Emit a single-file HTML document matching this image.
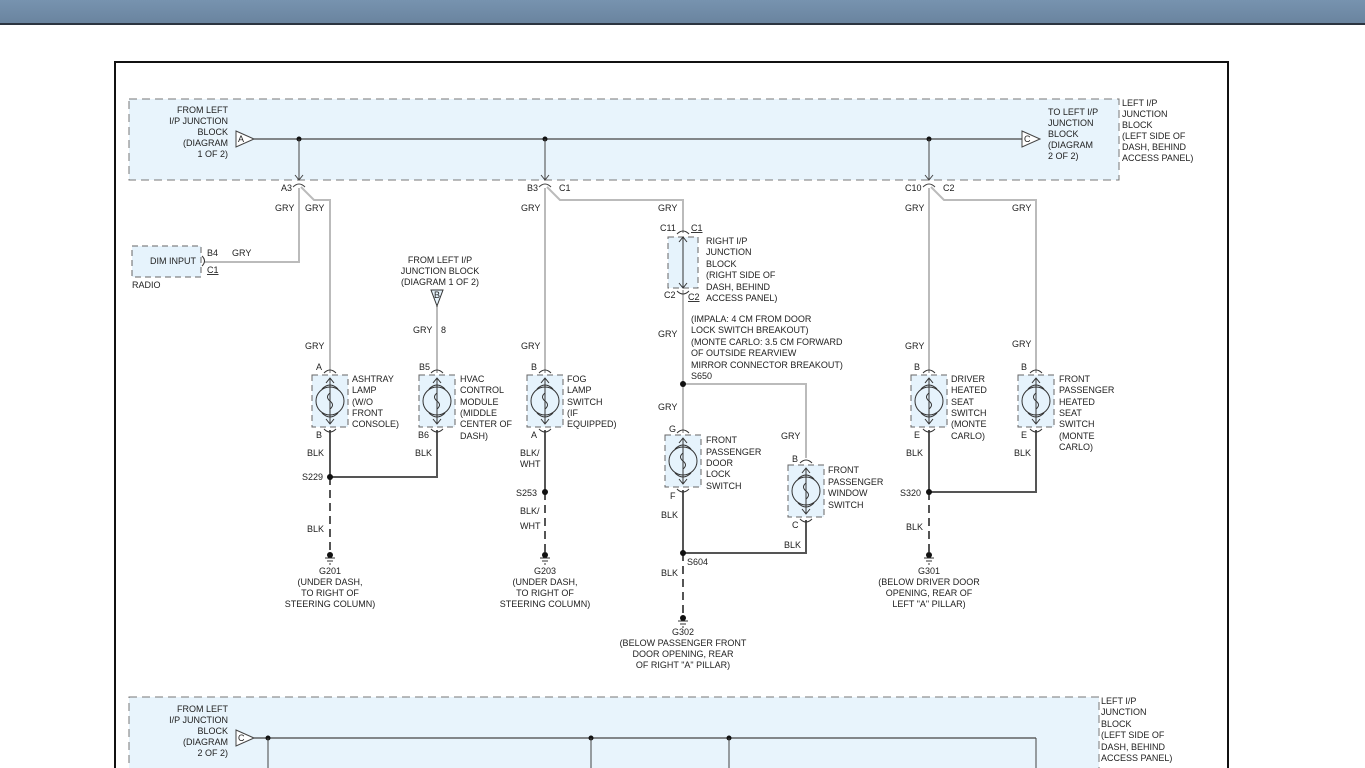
<!DOCTYPE html>
<html><head><meta charset="utf-8"><style>
html,body{margin:0;padding:0;width:1365px;height:768px;overflow:hidden;background:#fff}
.hdr{position:absolute;left:0;top:0;width:1365px;height:23px;background:linear-gradient(#7793af,#6a849f);border-bottom:2px solid #2b3440}
svg{position:absolute;left:0;top:0}
text{font-family:"Liberation Sans",Arial,sans-serif;font-size:9px;fill:#222}
</style></head><body>
<div class="hdr"></div>
<svg width="1365" height="768" viewBox="0 0 1365 768">
<defs>
<g id="cp">
<rect x="0" y="0" width="36" height="52" fill="#e6f3fc" stroke="#666" stroke-dasharray="6,4" stroke-width="1"/>
<circle cx="18" cy="26" r="14" fill="none" stroke="#333" stroke-width="1"/>
<path d="M18 3 V49 M14 8 L18 3 L22 8 M14 44 L18 49 L22 44" fill="none" stroke="#333" stroke-width="1"/>
<path d="M10 14 Q18 6 26 14 M10 38 Q18 46 26 38" fill="none" stroke="#333" stroke-width="1"/>
<path d="M18 18 q-5 4 0 8 q5 4 0 8" fill="none" stroke="#333"/>
<path d="M12 -2 q6 -6 12 0 M12 54 q6 6 12 0" fill="none" stroke="#333"/>
</g>
<g id="gnd"><circle cx="0" cy="0" r="3" fill="#111"/><path d="M-5 3 H5 M-3 6 H3 M-1 9 H1" stroke="#333"/></g>
</defs>
<rect x="115" y="62" width="1113" height="720" fill="none" stroke="#111" stroke-width="2"/>
<!-- top block -->
<rect x="129" y="99" width="990" height="81" fill="#e8f4fc" stroke="#777" stroke-dasharray="8,5"/>
<line x1="254" y1="139" x2="1022" y2="139" stroke="#444" stroke-width="1.2"/>
<path d="M236 131 L254 139 L236 147 Z" fill="#fff" stroke="#444"/><text x="238" y="142">A</text>
<path d="M1022 131 L1040 139 L1022 147 Z" fill="#fff" stroke="#444"/><text x="1024" y="142">C</text>
<g fill="#111"><circle cx="299" cy="139" r="2.5"/><circle cx="545" cy="139" r="2.5"/><circle cx="929" cy="139" r="2.5"/></g>
<g stroke="#444" fill="none"><path d="M299 139V180 M295 175 L299 180 L303 175"/><path d="M545 139V180 M541 175 L545 180 L549 175"/><path d="M929 139V180 M925 175 L929 180 L933 175"/>
<path d="M293 187 q6 -6 12 0 M539 187 q6 -6 12 0 M923 187 q6 -6 12 0"/></g>
<text text-anchor="end"><tspan x="228" y="113">FROM LEFT</tspan><tspan x="228" y="124">I/P JUNCTION</tspan><tspan x="228" y="135">BLOCK</tspan><tspan x="228" y="146">(DIAGRAM</tspan><tspan x="228" y="157">1 OF 2)</tspan></text>
<text><tspan x="1048" y="115">TO LEFT I/P</tspan><tspan x="1048" y="126">JUNCTION</tspan><tspan x="1048" y="137">BLOCK</tspan><tspan x="1048" y="148">(DIAGRAM</tspan><tspan x="1048" y="159">2 OF 2)</tspan></text>
<text><tspan x="1122" y="106">LEFT I/P</tspan><tspan x="1122" y="117">JUNCTION</tspan><tspan x="1122" y="128">BLOCK</tspan><tspan x="1122" y="139">(LEFT SIDE OF</tspan><tspan x="1122" y="150">DASH, BEHIND</tspan><tspan x="1122" y="161">ACCESS PANEL)</tspan></text>
<text x="281" y="191">A3</text><text x="527" y="191">B3</text><text x="559" y="191">C1</text><text x="905" y="191">C10</text><text x="943" y="191">C2</text>
<!-- GRY wires -->
<g stroke="#bbb" stroke-width="2" fill="none">
<path d="M299 188 V262 H205"/>
<path d="M301 187 L314 200 H330 V373"/>
<path d="M437 306 V373"/>
<path d="M545 188 V373"/>
<path d="M547 187 L560 200 H683 V233"/>
<path d="M683 290 V433"/>
<path d="M683 384 H806 V458"/>
<path d="M929 188 V373"/>
<path d="M931 187 L944 200 H1036 V373"/>
</g>
<!-- BLK wires -->
<g stroke="#555" stroke-width="2" fill="none">
<path d="M330 430 V477 H437 V430"/>
<path d="M545 430 V492"/>
<path d="M683 490 V553 H806 V520"/>
<path d="M929 430 V492 H1036 V430"/>
</g>
<g stroke="#555" stroke-width="2" fill="none" stroke-dasharray="8,5">
<path d="M330 477 V553"/><path d="M545 492 V553"/><path d="M929 492 V553"/><path d="M683 553 V616"/>
</g>
<g fill="#111"><circle cx="330" cy="477" r="3"/><circle cx="545" cy="492" r="3"/><circle cx="929" cy="492" r="3"/><circle cx="683" cy="384" r="3"/><circle cx="683" cy="553" r="3"/></g>
<use href="#gnd" x="330" y="555"/><use href="#gnd" x="545" y="555"/><use href="#gnd" x="929" y="555"/><use href="#gnd" x="683" y="618"/>
<!-- radio -->
<rect x="132" y="246" width="69" height="31" fill="#e6f3fc" stroke="#666" stroke-dasharray="6,4"/>
<text x="150" y="264">DIM INPUT</text><path d="M202 256 q5 5 0 10" stroke="#333" fill="none"/>
<text x="207" y="256">B4</text><text x="232" y="256">GRY</text><text x="207" y="273" text-decoration="underline">C1</text><text x="132" y="288">RADIO</text>
<!-- components -->
<use href="#cp" x="312" y="375"/><use href="#cp" x="419" y="375"/><use href="#cp" x="527" y="375"/>
<use href="#cp" x="665" y="435"/><use href="#cp" x="788" y="465"/><use href="#cp" x="911" y="375"/><use href="#cp" x="1018" y="375"/>
<rect x="668" y="237" width="30" height="51" fill="#e6f3fc" stroke="#666" stroke-dasharray="6,4"/>
<path d="M683 237V288 M679 242 L683 237 L687 242 M679 283 L683 288 L687 283 M677 234 q6 -6 12 0 M677 291 q6 6 12 0" stroke="#333" fill="none"/>
<path d="M431 290 H443 L437 306 Z" fill="#e6f3fc" stroke="#333"/><text x="434" y="298" font-size="7">B</text>
<!-- labels -->
<text x="275" y="211">GRY</text><text x="305" y="211">GRY</text><text x="521" y="211">GRY</text><text x="658" y="211">GRY</text><text x="905" y="211">GRY</text><text x="1012" y="211">GRY</text>
<text text-anchor="middle"><tspan x="440" y="263">FROM LEFT I/P</tspan><tspan x="440" y="274">JUNCTION BLOCK</tspan><tspan x="440" y="285">(DIAGRAM 1 OF 2)</tspan></text>
<text x="413" y="333">GRY</text><text x="441" y="333">8</text>
<text x="305" y="349">GRY</text><text x="521" y="349">GRY</text><text x="905" y="349">GRY</text><text x="1012" y="347">GRY</text>
<text x="316" y="370">A</text><text x="419" y="370">B5</text><text x="531" y="370">B</text><text x="914" y="370">B</text><text x="1021" y="370">B</text>
<text><tspan x="352" y="382">ASHTRAY</tspan><tspan x="352" y="393">LAMP</tspan><tspan x="352" y="405">(W/O</tspan><tspan x="352" y="416">FRONT</tspan><tspan x="352" y="427">CONSOLE)</tspan></text>
<text><tspan x="460" y="382">HVAC</tspan><tspan x="460" y="393">CONTROL</tspan><tspan x="460" y="405">MODULE</tspan><tspan x="460" y="416">(MIDDLE</tspan><tspan x="460" y="427">CENTER OF</tspan><tspan x="460" y="439">DASH)</tspan></text>
<text><tspan x="567" y="382">FOG</tspan><tspan x="567" y="393">LAMP</tspan><tspan x="567" y="405">SWITCH</tspan><tspan x="567" y="416">(IF</tspan><tspan x="567" y="427">EQUIPPED)</tspan></text>
<text><tspan x="951" y="382">DRIVER</tspan><tspan x="951" y="393">HEATED</tspan><tspan x="951" y="405">SEAT</tspan><tspan x="951" y="416">SWITCH</tspan><tspan x="951" y="427">(MONTE</tspan><tspan x="951" y="439">CARLO)</tspan></text>
<text><tspan x="1059" y="382">FRONT</tspan><tspan x="1059" y="393">PASSENGER</tspan><tspan x="1059" y="405">HEATED</tspan><tspan x="1059" y="416">SEAT</tspan><tspan x="1059" y="427">SWITCH</tspan><tspan x="1059" y="439">(MONTE</tspan><tspan x="1059" y="450">CARLO)</tspan></text>
<text x="316" y="438">B</text><text x="418" y="438">B6</text><text x="531" y="438">A</text><text x="914" y="438">E</text><text x="1021" y="438">E</text>
<text x="307" y="456">BLK</text><text x="415" y="456">BLK</text><text x="520" y="456">BLK/</text><text x="520" y="467">WHT</text><text x="906" y="456">BLK</text><text x="1014" y="456">BLK</text>
<text x="302" y="480">S229</text><text x="516" y="496">S253</text><text x="900" y="496">S320</text>
<text x="307" y="532">BLK</text><text x="520" y="514">BLK/</text><text x="520" y="529">WHT</text><text x="906" y="530">BLK</text>
<text text-anchor="middle"><tspan x="330" y="574">G201</tspan><tspan x="330" y="585">(UNDER DASH,</tspan><tspan x="330" y="596">TO RIGHT OF</tspan><tspan x="330" y="607">STEERING COLUMN)</tspan></text>
<text text-anchor="middle"><tspan x="545" y="574">G203</tspan><tspan x="545" y="585">(UNDER DASH,</tspan><tspan x="545" y="596">TO RIGHT OF</tspan><tspan x="545" y="607">STEERING COLUMN)</tspan></text>
<text text-anchor="middle"><tspan x="929" y="574">G301</tspan><tspan x="929" y="585">(BELOW DRIVER DOOR</tspan><tspan x="929" y="596">OPENING, REAR OF</tspan><tspan x="929" y="607">LEFT "A" PILLAR)</tspan></text>
<text text-anchor="middle"><tspan x="683" y="635">G302</tspan><tspan x="683" y="646">(BELOW PASSENGER FRONT</tspan><tspan x="683" y="657">DOOR OPENING, REAR</tspan><tspan x="683" y="668">OF RIGHT "A" PILLAR)</tspan></text>
<text x="660" y="231">C11</text><text x="691" y="231" text-decoration="underline">C1</text>
<text><tspan x="706" y="244">RIGHT I/P</tspan><tspan x="706" y="255">JUNCTION</tspan><tspan x="706" y="267">BLOCK</tspan><tspan x="706" y="278">(RIGHT SIDE OF</tspan><tspan x="706" y="290">DASH, BEHIND</tspan><tspan x="706" y="301">ACCESS PANEL)</tspan></text>
<text x="664" y="298">C2</text><text x="688" y="300" text-decoration="underline">C2</text>
<text x="658" y="337">GRY</text>
<text><tspan x="691" y="322">(IMPALA: 4 CM FROM DOOR</tspan><tspan x="691" y="333">LOCK SWITCH BREAKOUT)</tspan><tspan x="691" y="345">(MONTE CARLO: 3.5 CM FORWARD</tspan><tspan x="691" y="356">OF OUTSIDE REARVIEW</tspan><tspan x="691" y="368">MIRROR CONNECTOR BREAKOUT)</tspan><tspan x="691" y="379">S650</tspan></text>
<text x="658" y="410">GRY</text><text x="669" y="432">G</text>
<text><tspan x="706" y="443">FRONT</tspan><tspan x="706" y="455">PASSENGER</tspan><tspan x="706" y="466">DOOR</tspan><tspan x="706" y="477">LOCK</tspan><tspan x="706" y="489">SWITCH</tspan></text>
<text x="670" y="499">F</text><text x="661" y="518">BLK</text>
<text x="781" y="439">GRY</text><text x="792" y="462">B</text>
<text><tspan x="828" y="473">FRONT</tspan><tspan x="828" y="485">PASSENGER</tspan><tspan x="828" y="496">WINDOW</tspan><tspan x="828" y="508">SWITCH</tspan></text>
<text x="792" y="528">C</text><text x="784" y="548">BLK</text>
<text x="687" y="565">S604</text><text x="661" y="576">BLK</text>
<!-- bottom block -->
<rect x="129" y="697" width="970" height="90" fill="#e8f4fc" stroke="#777" stroke-dasharray="8,5"/>
<line x1="254" y1="738" x2="1036" y2="738" stroke="#444" stroke-width="1.2"/>
<path d="M236 730 L254 738 L236 746 Z" fill="#fff" stroke="#444"/><text x="238" y="741">C</text>
<g fill="#111"><circle cx="268" cy="738" r="2.5"/><circle cx="591" cy="738" r="2.5"/><circle cx="729" cy="738" r="2.5"/></g>
<path d="M268 738V768 M591 738V768 M729 738V768 M1036 738V768" stroke="#444" fill="none"/>
<text text-anchor="end"><tspan x="228" y="712">FROM LEFT</tspan><tspan x="228" y="723">I/P JUNCTION</tspan><tspan x="228" y="734">BLOCK</tspan><tspan x="228" y="745">(DIAGRAM</tspan><tspan x="228" y="756">2 OF 2)</tspan></text>
<text><tspan x="1101" y="704">LEFT I/P</tspan><tspan x="1101" y="715">JUNCTION</tspan><tspan x="1101" y="727">BLOCK</tspan><tspan x="1101" y="738">(LEFT SIDE OF</tspan><tspan x="1101" y="750">DASH, BEHIND</tspan><tspan x="1101" y="761">ACCESS PANEL)</tspan></text>
</svg>
</body></html>
